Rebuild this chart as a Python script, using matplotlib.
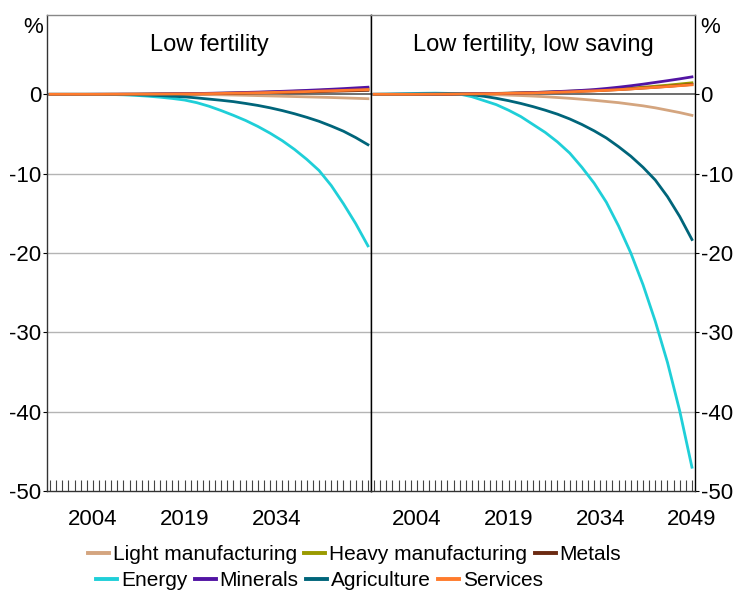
import numpy as np
import matplotlib
matplotlib.use("Agg")
import matplotlib.pyplot as plt
from matplotlib.lines import Line2D

plt.rcParams['font.family'] = ['Liberation Sans', 'DejaVu Sans']
plt.rcParams['axes.unicode_minus'] = False

years = np.arange(1997, 2050, 2)

# Low fertility
light_lf = [0, 0, 0, 0, 0, 0, 0, 0, 0, 0, -0.01, -0.01, -0.02, -0.04, -0.06, -0.09, -0.12, -0.16, -0.2, -0.24, -0.28, -0.32, -0.36, -0.4, -0.45, -0.5, -0.55]
heavy_lf = [0, 0, 0, 0, 0, 0.01, 0.01, 0.02, 0.03, 0.04, 0.05, 0.07, 0.09, 0.11, 0.14, 0.17, 0.2, 0.24, 0.28, 0.33, 0.38, 0.43, 0.49, 0.55, 0.61, 0.68, 0.75]
metals_lf = [0, 0, 0, 0, 0, 0, 0.01, 0.01, 0.02, 0.03, 0.04, 0.05, 0.06, 0.08, 0.1, 0.12, 0.14, 0.17, 0.2, 0.23, 0.27, 0.3, 0.34, 0.38, 0.42, 0.46, 0.5]
energy_lf = [0, 0, 0, 0, 0, -0.02, -0.06, -0.13, -0.23, -0.36, -0.52, -0.72, -1.05, -1.5, -2.05, -2.65, -3.3, -4.05, -4.9, -5.85, -6.95, -8.2, -9.6, -11.5, -13.8, -16.3, -19.1]
minerals_lf = [0, 0, 0, 0, 0.01, 0.01, 0.02, 0.02, 0.03, 0.05, 0.06, 0.08, 0.1, 0.13, 0.16, 0.2, 0.24, 0.28, 0.33, 0.38, 0.44, 0.5, 0.57, 0.64, 0.72, 0.81, 0.9]
agri_lf = [0, 0, 0, 0, 0, 0, -0.02, -0.05, -0.1, -0.16, -0.24, -0.32, -0.45, -0.6, -0.75, -0.92, -1.15, -1.4, -1.7, -2.05, -2.45, -2.9, -3.4, -4.0, -4.65, -5.45, -6.35]
services_lf = [0, 0, 0, 0, 0, 0.01, 0.01, 0.02, 0.02, 0.03, 0.04, 0.06, 0.07, 0.09, 0.11, 0.14, 0.17, 0.2, 0.23, 0.27, 0.31, 0.35, 0.4, 0.45, 0.5, 0.55, 0.6]

# Low fertility, low saving
light_ls = [0, 0, 0, 0, 0, 0, 0, 0, 0, -0.02, -0.05, -0.1, -0.15, -0.22, -0.3, -0.4, -0.5, -0.62, -0.75, -0.9, -1.05, -1.25, -1.45, -1.7, -2.0, -2.3, -2.65]
heavy_ls = [0, 0, 0, 0, 0.01, 0.02, 0.03, 0.05, 0.07, 0.09, 0.12, 0.15, 0.19, 0.23, 0.28, 0.33, 0.39, 0.45, 0.52, 0.6, 0.69, 0.79, 0.9, 1.02, 1.15, 1.3, 1.45]
metals_ls = [0, 0, 0, 0, 0, 0.01, 0.02, 0.03, 0.05, 0.07, 0.09, 0.12, 0.15, 0.19, 0.23, 0.28, 0.33, 0.39, 0.45, 0.52, 0.6, 0.69, 0.79, 0.89, 1.0, 1.12, 1.25]
energy_ls = [0, 0.03, 0.06, 0.1, 0.13, 0.15, 0.12, 0.03, -0.3, -0.8, -1.3, -2.0, -2.8, -3.8, -4.8, -6.0, -7.4, -9.2, -11.2, -13.6, -16.6, -20.0, -24.0, -28.6, -33.8, -39.9, -47.0]
minerals_ls = [0, 0, 0.01, 0.01, 0.02, 0.03, 0.04, 0.05, 0.06, 0.08, 0.1, 0.14, 0.18, 0.22, 0.28, 0.35, 0.42, 0.5, 0.6, 0.74, 0.9, 1.08, 1.28, 1.5, 1.72, 1.95, 2.2]
agri_ls = [0, 0, 0.01, 0.02, 0.04, 0.05, 0.08, 0.05, -0.05, -0.25, -0.5, -0.8, -1.15, -1.55, -2.0, -2.5, -3.1, -3.8, -4.6, -5.5, -6.6, -7.8, -9.2, -10.8, -12.9, -15.4, -18.3]
services_ls = [0, 0, 0, 0, 0.01, 0.02, 0.03, 0.04, 0.05, 0.07, 0.09, 0.12, 0.15, 0.18, 0.22, 0.27, 0.32, 0.38, 0.44, 0.51, 0.59, 0.68, 0.78, 0.88, 0.98, 1.09, 1.2]

names = ["Light manufacturing", "Heavy manufacturing", "Metals",
         "Energy", "Minerals", "Agriculture", "Services"]
colors = ["#d4a57f", "#9a9a00", "#6b2a12", "#1fcfd8", "#5214a3", "#00657a", "#ff7b2c"]

panels = [
    ("Low fertility", [light_lf, heavy_lf, metals_lf, energy_lf, minerals_lf, agri_lf, services_lf]),
    ("Low fertility, low saving", [light_ls, heavy_ls, metals_ls, energy_ls, minerals_ls, agri_ls, services_ls]),
]

fig = plt.figure(figsize=(7.34, 5.93), dpi=100)
ax1 = fig.add_axes([47/734, 102/593, 324/734, 476/593])
ax2 = fig.add_axes([371/734, 102/593, 324/734, 476/593])

for i, (ax, (title, series)) in enumerate(zip([ax1, ax2], panels)):
    for g in [-10, -20, -30, -40]:
        ax.axhline(g, color="#b4b4b4", lw=1, zorder=1)
    ax.axhline(0, color="#555555", lw=1.2, zorder=1)
    for s, c in zip(series, colors):
        ax.plot(years, s, color=c, lw=2.0, zorder=3)
    ax.set_xlim(1996.5, 2049.5)
    ax.set_ylim(-50, 10)
    ax.set_yticks([0, -10, -20, -30, -40, -50])
    ax.set_xticks([2004, 2019, 2034, 2049])
    ax.set_xticks(np.arange(1997, 2050), minor=True)
    if i == 0:
        ax.set_xticklabels(["2004", "2019", "2034", ""])
        ax.tick_params(axis="y", left=True, right=False, labelleft=True,
                       labelright=False, length=3, labelsize=16, pad=1)
        ax.text(-0.012, 0.996, "%", transform=ax.transAxes, fontsize=16,
                ha="right", va="top")
    else:
        ax.set_xticklabels(["2004", "2019", "2034", "2049"])
        ax.tick_params(axis="y", left=False, right=True, labelleft=False,
                       labelright=True, length=3, labelsize=16, pad=1)
        ax.text(1.015, 0.996, "%", transform=ax.transAxes, fontsize=16,
                ha="left", va="top")
    ax.tick_params(axis="x", which="both", direction="in", length=8,
                   color="#444444", width=0.8, labelsize=16, pad=13)
    ax.text(0.5, 0.96, title, transform=ax.transAxes, fontsize=17,
            ha="center", va="top")
    for side in ["top", "left", "right", "bottom"]:
        ax.spines[side].set_linewidth(1)
    ax.spines["top"].set_color("#888888")
    ax.spines["bottom"].set_color("#333333")

ax1.spines["left"].set_color("#333333")
ax1.spines["right"].set_color("black")
ax2.spines["left"].set_color("black")
ax2.spines["right"].set_color("black")

handles = [Line2D([0], [0], color=c, lw=2.8) for c in colors]
leg_kw = dict(frameon=False, fontsize=15, handlelength=1.0, handletextpad=0.2,
              columnspacing=0.35, borderaxespad=0, borderpad=0)
fig.legend(handles[:3], names[:3], loc="upper left", ncol=3,
           bbox_to_anchor=(88/734, 1 - 545/593), **leg_kw)
fig.legend(handles[3:], names[3:], loc="upper left", ncol=4,
           bbox_to_anchor=(96/734, 1 - 571/593), **leg_kw)

fig.savefig("out.png", dpi=100)
